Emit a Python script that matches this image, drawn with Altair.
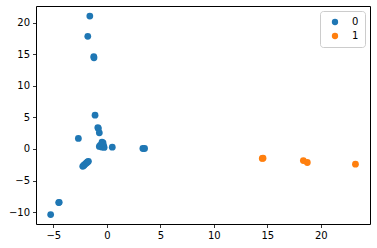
import altair as alt
import pandas as pd

x0 = [-1.59, -1.78, -1.22, -1.20, -1.10, -0.84, -0.79, -0.70, -2.66,
      -0.45, -0.60, -0.30, -0.50, -0.25, -0.70, -0.40, -0.35,
      0.51, 3.37, 3.53,
      -2.25, -2.15, -2.10, -2.00, -1.90, -1.80, -1.72,
      -4.50, -4.45, -5.25]
y0 = [21.08, 17.86, 14.65, 14.45, 5.37, 3.40, 3.25, 2.56, 1.67,
      1.10, 0.60, 0.50, 0.30, 0.25, 0.40, 0.80, 0.95,
      0.29, 0.08, 0.08,
      -2.75, -2.60, -2.50, -2.35, -2.20, -2.05, -1.95,
      -8.50, -8.45, -10.40]
x1 = [14.53, 14.60, 18.37, 18.74, 23.24]
y1 = [-1.50, -1.45, -1.83, -2.14, -2.41]
classes = ["0", "1"]
colors = ["#1f77b4", "#ff7f0e"]
x_ticks = [-5, 0, 5, 10, 15, 20]
y_ticks = [-10, -5, 0, 5, 10, 15, 20]

df = pd.DataFrame({
    "x": x0 + x1,
    "y": y0 + y1,
    "label": [classes[0]] * len(x0) + [classes[1]] * len(x1),
})

chart = alt.Chart(df).mark_circle(size=46, opacity=1).encode(
    x=alt.X("x:Q", scale=alt.Scale(domain=[-6.62, 24.6], nice=False, zero=False),
            axis=alt.Axis(values=x_ticks, title=None, grid=False)),
    y=alt.Y("y:Q", scale=alt.Scale(domain=[-11.89, 22.67], nice=False, zero=False),
            axis=alt.Axis(values=y_ticks, title=None, grid=False)),
    color=alt.Color("label:N", scale=alt.Scale(domain=classes, range=colors),
                    legend=alt.Legend(title=None, orient="top-right", offset=5,
                                      padding=6, fillColor="white",
                                      strokeColor="#cccccc", cornerRadius=3,
                                      symbolType="circle", symbolSize=40,
                                      labelFontSize=10, labelFont="DejaVu Sans",
                                      labelColor="black", rowPadding=4,
                                      labelOffset=12, symbolOffset=4)),
).properties(
    width=334, height=218,
    autosize=alt.AutoSizeParams(type="none"),
    padding={"left": 36, "top": 6, "right": 7, "bottom": 24},
).configure_view(
    stroke="black", strokeWidth=1
).configure_axis(
    domain=False, tickColor="black", tickSize=3.5, tickWidth=0.8,
    labelFont="DejaVu Sans", labelFontSize=10, labelColor="black", labelPadding=3
)

chart.save("out.html", embed_options={"renderer": "svg", "actions": False})
